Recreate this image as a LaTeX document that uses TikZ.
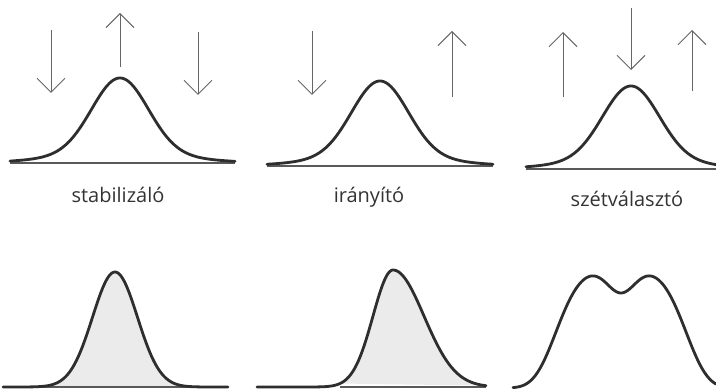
\documentclass[tikz,border=0pt]{standalone}
\usepackage{fontspec}
\setmainfont{Open Sans}
\usetikzlibrary{arrows.meta}
\begin{document}
\begin{tikzpicture}[x=1pt,y=-1pt,
  bell/.style={line width=2.8pt, draw=black!82, line cap=round, line join=round},
  axisline/.style={line width=1.1pt, draw=black!65},
  flowarrow/.style={line width=1pt, draw=black!60, -{Straight Barb[length=14pt,width=28pt]}},
  shade/.style={fill=black!8},
  caption/.style={font=\fontsize{20}{24}\selectfont, text=black!80, anchor=base, inner sep=0pt},
  declare function={
    gaus(\d,\s)=exp(-0.5*(\d/\s)*(\d/\s));
    topf(\d)=0.88*gaus(\d,28)+0.12*gaus(\d,60);
    twin(\d)=118*exp(-((abs(\d)/70)^4))-23*gaus(\d,13.8);
  }]
\useasboundingbox (0,0) rectangle (716,390);

% ---------- top row ----------
\draw[axisline] (10,163) -- (235,163);
\draw[bell] plot[domain=10:235, samples=150] (\x,{163-85*topf(\x-120)});
\draw[axisline] (267,166) -- (493,166);
\draw[bell] plot[domain=267:493, samples=150] (\x,{166-85*topf(\x-380)});
\draw[axisline] (526,169) -- (716,169);
\draw[bell] plot[domain=526:716, samples=150] (\x,{169-83*topf(\x-631)});

% arrows
\coordinate (a1s) at (51,30);  \coordinate (a1e) at (51,93);
\coordinate (a2s) at (120,67); \coordinate (a2e) at (120,13);
\coordinate (a3s) at (198,32); \coordinate (a3e) at (198,95);
\coordinate (b1s) at (312,31); \coordinate (b1e) at (312,95);
\coordinate (b2s) at (452,97); \coordinate (b2e) at (452,31);
\coordinate (c1s) at (563,97); \coordinate (c1e) at (563,32);
\coordinate (c2s) at (631,8);  \coordinate (c2e) at (631,70);
\coordinate (c3s) at (692,91); \coordinate (c3e) at (692,30);
\foreach \p in {a1,a2,a3,b1,b2,c1,c2,c3}
  \draw[flowarrow] (\p s) -- (\p e);

% captions
\node[caption] (t1) at (118,203) {stabilizáló};
\node[caption] (t2) at (369,203) {irányító};
\node[caption] (t3) at (627,207) {szétválasztó};

% ---------- bottom row ----------
\fill[shade] plot[domain=40:190, samples=120] (\x,{387-115*gaus(\x-115,22.5)}) -- cycle;
\draw[axisline] (40,387) -- (190,387);
\draw[bell] plot[domain=3:228, samples=160] (\x,{387-115*gaus(\x-115,22.5)});

\fill[shade] plot[domain=340:486, samples=120]
  (\x,{387-117*((\x<393)*gaus(\x-393,20)+(\x>=393)*gaus(\x-393,31))}) -- cycle;
\draw[axisline] (340,387) -- (486,387);
\draw[bell] plot[domain=257:486, samples=180]
  (\x,{387-117*((\x<393)*gaus(\x-393,20)+(\x>=393)*gaus(\x-393,31))});

\draw[bell] plot[domain=513:716, samples=180] (\x,{388-twin(\x-621)});
\end{tikzpicture}
\end{document}
